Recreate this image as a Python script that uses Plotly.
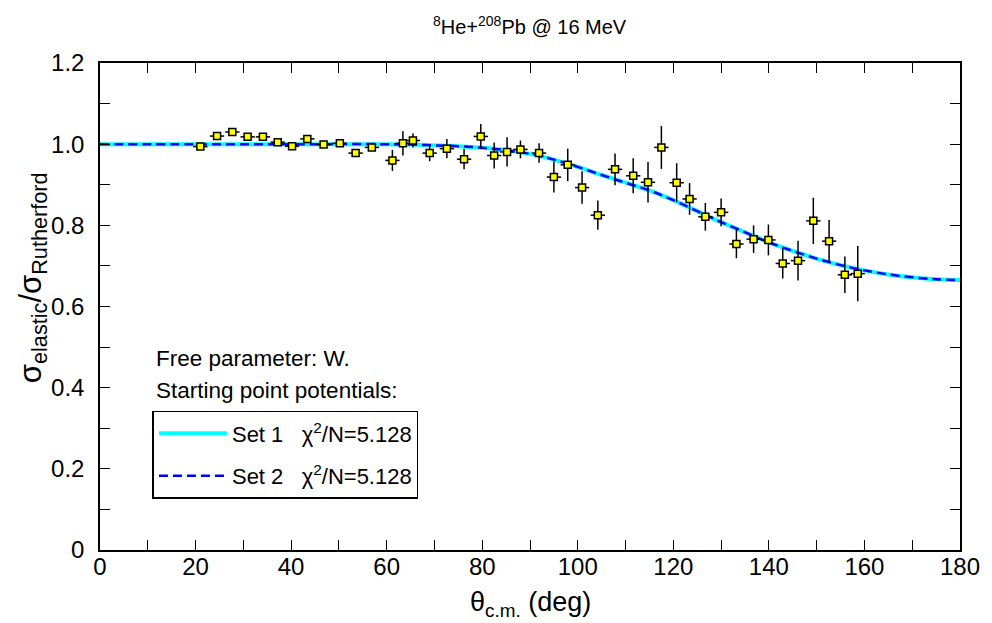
import plotly.graph_objects as go

# Measured elastic scattering ratio, 8He + 208Pb at 16 MeV
theta_cm = [21.0, 24.5, 27.7, 30.9, 34.1, 37.2, 40.2, 43.4, 46.8, 50.2,
            53.5, 56.9, 61.2, 63.4, 65.5, 69.0, 72.6, 76.2, 79.7, 82.5,
            85.2, 88.0, 91.9, 95.0, 97.9, 100.9, 104.2, 107.8, 111.6, 114.7,
            117.5, 120.7, 123.4, 126.7, 130.0, 133.2, 136.8, 139.9, 142.9, 146.1,
            149.3, 152.6, 155.9, 158.6]
ratio = [0.994, 1.020, 1.030, 1.018, 1.018, 1.005, 0.995, 1.013, 0.999, 1.002,
         0.978, 0.992, 0.960, 1.002, 1.009, 0.978, 0.989, 0.963, 1.019, 0.972,
         0.981, 0.987, 0.978, 0.919, 0.949, 0.893, 0.825, 0.938, 0.922, 0.906,
         0.992, 0.905, 0.865, 0.821, 0.832, 0.754, 0.766, 0.764, 0.706, 0.713,
         0.811, 0.761, 0.678, 0.681]
ratio_err = [0.008, 0.008, 0.008, 0.008, 0.008, 0.008, 0.008, 0.008, 0.008, 0.008,
             0.008, 0.008, 0.026, 0.030, 0.017, 0.020, 0.024, 0.025, 0.031, 0.032,
             0.036, 0.022, 0.024, 0.038, 0.040, 0.040, 0.036, 0.039, 0.043, 0.050,
             0.053, 0.048, 0.039, 0.034, 0.034, 0.035, 0.034, 0.038, 0.037, 0.049,
             0.057, 0.052, 0.045, 0.068]
theta_err = [1.5] * len(theta_cm)

# Optical-model fits for the two starting potentials
fit_theta = [0, 20, 40, 60, 65, 70, 75, 80, 85, 90, 95, 100, 105, 110, 115,
             120, 125, 130, 135, 140, 145, 150, 155, 160, 165, 170, 175, 180]
set1_ratio = [1.000, 1.000, 1.000, 1.000, 0.999, 0.997, 0.995, 0.991, 0.985,
              0.976, 0.962, 0.944, 0.924, 0.905, 0.886, 0.862, 0.835, 0.808,
              0.783, 0.758, 0.737, 0.718, 0.702, 0.689, 0.679, 0.672, 0.667, 0.665]
set2_ratio = list(set1_ratio)

set_names = ["Set 1", "Set 2"]
chi2_per_n = [5.128, 5.128]

x_ticks = [0, 20, 40, 60, 80, 100, 120, 140, 160, 180]
y_ticks = [0, 0.2, 0.4, 0.6, 0.8, 1.0, 1.2]
y_tick_text = ["0", "0.2", "0.4", "0.6", "0.8", "1.0", "1.2"]

FONT = "Liberation Sans, Arial, sans-serif"
sp = "&nbsp;" * 3

fig = go.Figure()
fig.add_trace(go.Scatter(
    x=fit_theta, y=set1_ratio, mode="lines", line_shape="spline",
    line=dict(color="#00ffff", width=4),
    name=f"{set_names[0]}{sp}χ<sup>2</sup>/N={chi2_per_n[0]:.3f}",
    legendgroup="a"))
fig.add_trace(go.Scatter(
    x=fit_theta, y=set2_ratio, mode="lines", line_shape="spline",
    line=dict(color="#0000ff", width=2.5, dash="9px,5px"),
    name=f"{set_names[1]}{sp}χ<sup>2</sup>/N={chi2_per_n[1]:.3f}",
    legendgroup="b"))
fig.add_trace(go.Scatter(
    x=theta_cm, y=ratio, mode="markers", showlegend=False,
    marker=dict(symbol="square", size=7, color="#ffff00",
                line=dict(color="black", width=1.5)),
    error_y=dict(type="data", array=ratio_err, color="black", thickness=1.5, width=0),
    error_x=dict(type="data", array=theta_err, color="black", thickness=1.5, width=0)))

axis_common = dict(showline=True, linecolor="black", linewidth=1.5, mirror="ticks",
                   ticks="inside", ticklen=10, tickwidth=1.2, tickcolor="black",
                   showgrid=False, zeroline=False,
                   tickfont=dict(family=FONT, size=24, color="black"))

fig.update_xaxes(range=[0, 180], tickvals=x_ticks, ticklabelstandoff=-6,
                 minor=dict(dtick=10, ticks="inside", ticklen=10, tickcolor="black"),
                 **axis_common)
fig.update_yaxes(range=[0, 1.2], tickvals=y_ticks, ticktext=y_tick_text,
                 ticklabelstandoff=9,
                 minor=dict(dtick=0.1, ticks="inside", ticklen=10, tickcolor="black"),
                 **axis_common)

fig.update_layout(
    width=992, height=623,
    margin=dict(l=100, r=27, t=63, b=73),
    plot_bgcolor="white", paper_bgcolor="white",
    font=dict(family=FONT, color="black"),
    legend=dict(x=0.061, y=0.2855, xanchor="left", yanchor="top",
                bordercolor="black", borderwidth=1.5, bgcolor="white",
                font=dict(family=FONT, size=22, color="black"),
                itemwidth=68, tracegroupgap=11),
    annotations=[
        dict(text="<sup>8</sup>He+<sup>208</sup>Pb @ 16 MeV", xref="paper", yref="paper",
             x=0.5, y=1.076, xanchor="center", yanchor="middle", showarrow=False,
             font=dict(family=FONT, size=20)),
        dict(text="σ<sub>elastic</sub>/σ<sub>Rutherford</sub>", xref="paper", yref="paper",
             x=-0.078, y=0.56, xanchor="center", yanchor="middle", textangle=-90,
             showarrow=False, font=dict(family=FONT, size=31)),
        dict(text="θ<sub>c.m.</sub> (deg)", xref="paper", yref="paper",
             x=0.5, y=-0.11, xanchor="center", yanchor="middle", showarrow=False,
             font=dict(family=FONT, size=27)),
        dict(text="Free parameter: W.", xref="x", yref="y", x=11.4, y=0.473,
             xanchor="left", yanchor="middle", showarrow=False,
             font=dict(family=FONT, size=22.5)),
        dict(text="Starting point potentials:", xref="x", yref="y", x=11.4, y=0.394,
             xanchor="left", yanchor="middle", showarrow=False,
             font=dict(family=FONT, size=22.5)),
    ],
)

fig.write_html("out.html")
